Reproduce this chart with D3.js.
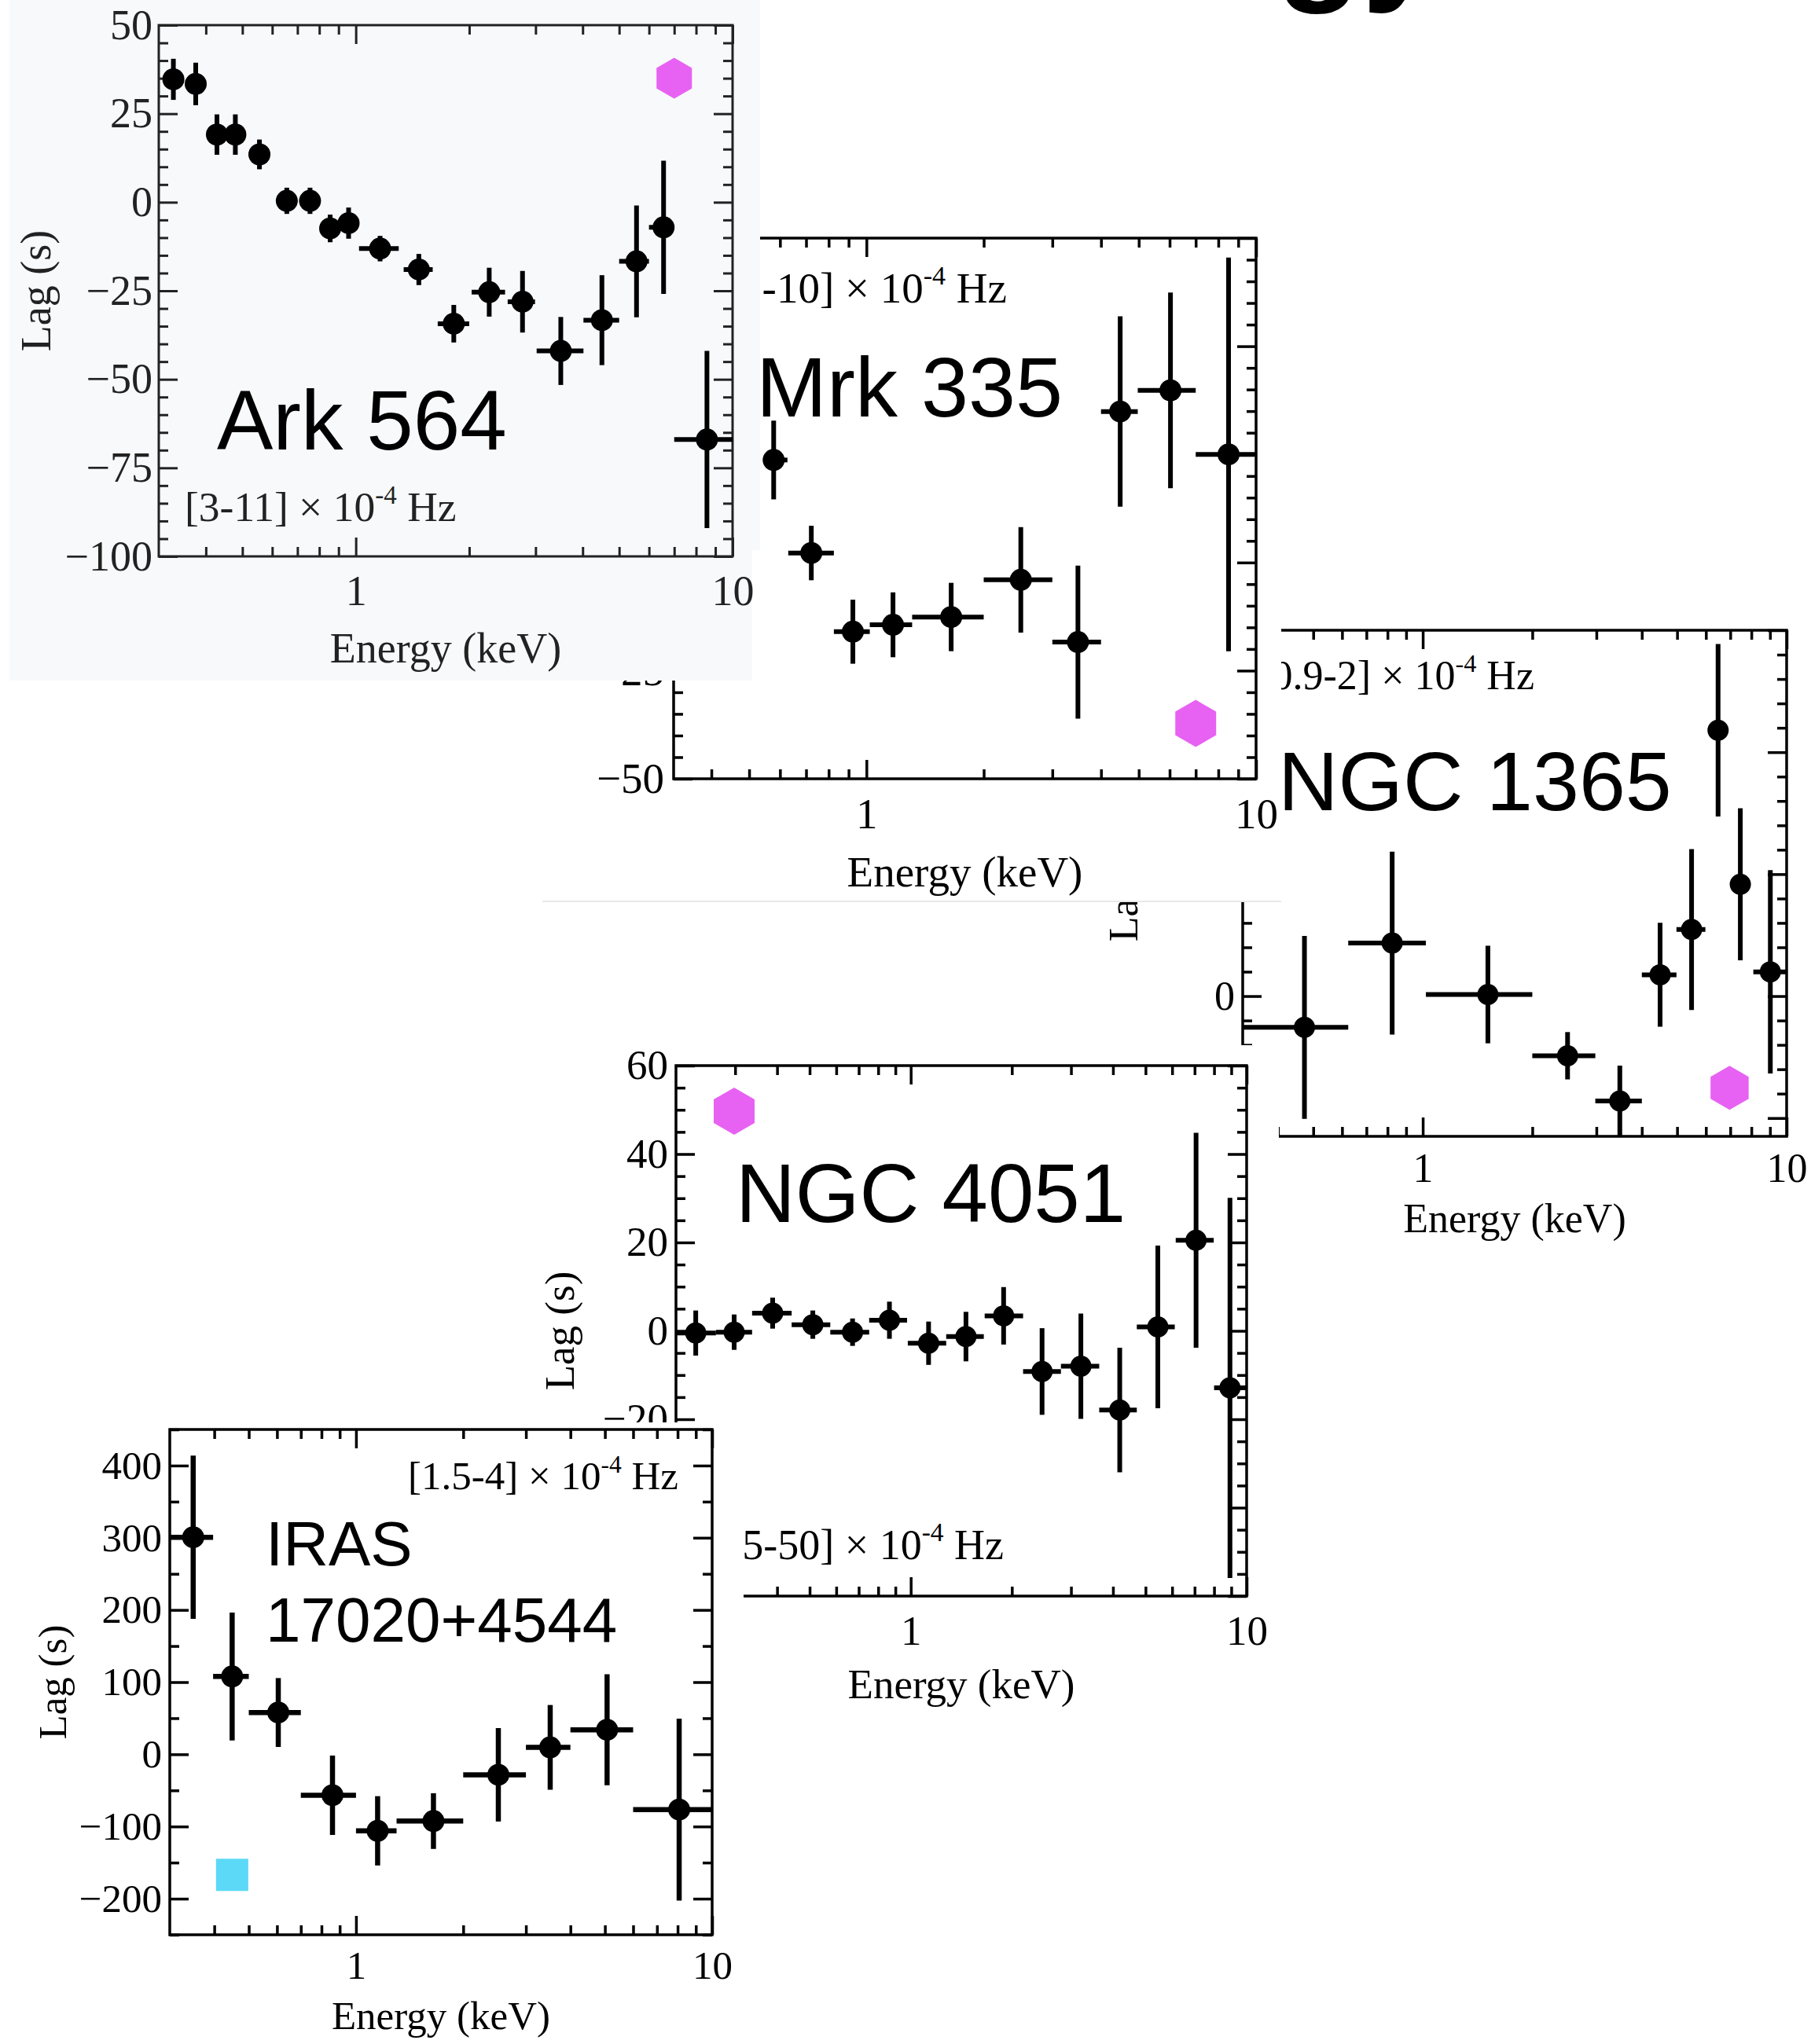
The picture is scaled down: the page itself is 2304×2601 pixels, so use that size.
<!doctype html>
<html>
<head>
<meta charset="utf-8">
<title></title>
<script src="https://cdn.jsdelivr.net/npm/d3@7"></script>
<style>
	body { margin: 0; background: #fff; }
</style>
</head>
<body>
<svg id="main" width="2304" height="2601"></svg>
<script>
'use strict';
var SERIF = '"Liberation Serif", "Times New Roman", serif';
var SANS = '"Liberation Sans", Arial, Helvetica, sans-serif';

// ---------- data (energy in keV, lag in s) ----------
// Ark 564
var arkE   = [0.328, 0.376, 0.428, 0.479, 0.555, 0.656, 0.756, 0.855, 0.957, 1.16, 1.47, 1.82, 2.26, 2.77, 3.50, 4.50, 5.56, 6.56, 8.55];
var arkLo  = [0.31, 0.355, 0.405, 0.455, 0.52, 0.62, 0.72, 0.81, 0.91, 1.02, 1.34, 1.65, 2.03, 2.53, 3.02, 4.02, 5.0, 6.0, 7.0];
var arkHi  = [0.345, 0.395, 0.45, 0.50, 0.59, 0.69, 0.79, 0.90, 1.0, 1.30, 1.60, 2.0, 2.49, 2.99, 4.02, 5.0, 6.0, 7.0, 10.0];
var arkLag = [34.7, 33.4, 19.1, 19.1, 13.5, 0.4, 0.4, -7.4, -5.9, -13.1, -19.0, -34.3, -25.4, -28.1, -42.0, -33.3, -16.7, -7.1, -67];
var arkErr = [5.8, 6, 5.7, 5.7, 4.2, 3.7, 3.7, 3.9, 4.4, 3.6, 4.4, 5.3, 6.9, 8.7, 9.6, 12.7, 15.8, 18.8, 25];

// Mrk 335
var mrkE   = [0.578, 0.722, 0.923, 1.17, 1.65, 2.49, 3.49, 4.48, 6.03, 8.50];
var mrkLo  = [0.553, 0.63, 0.825, 1.02, 1.31, 2.0, 3.0, 4.0, 4.97, 7.0];
var mrkHi  = [0.627, 0.825, 1.02, 1.31, 2.0, 3.0, 4.0, 4.97, 7.0, 10];
var mrkLag = [23.7, 2.2, -16.0, -14.4, -12.6, -4.0, -18.4, 34.9, 39.8, 25.0];
var mrkErr = [9.1, 6.3, 7.4, 7.5, 7.9, 12.2, 17.7, 22, 22.6, 45.5];

// NGC 1365
var n1365E   = [0.473, 0.824, 1.51, 2.50, 3.48, 4.49, 5.48, 6.48, 7.46, 9.02];
var n1365Lo  = [0.32, 0.624, 1.02, 2.0, 2.98, 4.0, 4.98, 6.1, 7.1, 8.1];
var n1365Hi  = [0.624, 1.02, 2.0, 2.98, 4.0, 4.98, 5.98, 6.9, 7.85, 10];
var n1365Lag = [-25.6, 43.5, 1.3, -48.9, -86, 17.5, 54.6, 218, 91.7, 19.9];
var n1365Err = [75, 75, 40, 19.4, 29, 42.6, 66, 70.8, 62.4, 83.4];

// NGC 4051
var n4051E   = [0.229, 0.298, 0.388, 0.511, 0.671, 0.864, 1.13, 1.46, 1.89, 2.46, 3.21, 4.19, 5.44, 7.07, 8.92];
var n4051Lo  = [0.2, 0.263, 0.337, 0.442, 0.576, 0.752, 0.98, 1.275, 1.66, 2.16, 2.80, 3.64, 4.71, 6.15, 8.0];
var n4051Hi  = [0.263, 0.337, 0.442, 0.576, 0.752, 0.975, 1.275, 1.65, 2.16, 2.80, 3.64, 4.71, 6.11, 7.98, 10];
var n4051Lag = [-0.5, -0.3, 4.0, 1.4, -0.3, 2.4, -2.8, -1.3, 3.4, -9.2, -8.0, -17.9, 0.9, 20.5, -12.9];
var n4051Err = [5.1, 4, 3.5, 3.2, 3.1, 4.2, 4.9, 5.6, 6.5, 9.8, 11.9, 14.1, 18.4, 24.3, 43];

// IRAS 17020+4544
var irasE   = [0.349, 0.449, 0.605, 0.859, 1.15, 1.65, 2.51, 3.51, 5.07, 8.08];
var irasLo  = [0.3, 0.397, 0.5, 0.70, 1.0, 1.30, 2.0, 3.0, 4.0, 6.0];
var irasHi  = [0.397, 0.5, 0.70, 1.0, 1.30, 2.0, 3.0, 4.0, 6.0, 10];
var irasLag = [300.7, 107.8, 57.9, -56.7, -106, -92.5, -28.4, 9.6, 34, -76.6];
var irasErr = [113, 88.5, 47.7, 55, 48, 38.6, 64.7, 58.7, 77, 126];

// axis ticks
var xMajor = [1, 10];
var xMinor = [0.2, 0.3, 0.4, 0.5, 0.6, 0.7, 0.8, 0.9, 2, 3, 4, 5, 6, 7, 8, 9];
var arkYMajor   = [-100, -75, -50, -25, 0, 25, 50];
var mrkYMajor   = [-50, -25, 0, 25, 50, 75];
var n1365YMajor = [-100, 0, 100, 200, 300];
var n4051YMajor = [-60, -40, -20, 0, 20, 40, 60];
var irasYMajor  = [-200, -100, 0, 100, 200, 300, 400];

// marker positions (energy, lag)
var arkHex   = [7.0, 35];
var mrkHex   = [7.0, -37.2];
var n1365Hex = [6.97, -75.2];
var n4051Hex = [0.298, 49.7];
var irasSquare = [0.449, -167];

var HEX_FILL = '#e762f2';
var SQ_FILL = '#5cd9f6';

var svg = d3.select('#main');

function hexPath(cx, cy, R) {
	var pts = d3.range(6).map(function(k) {
		var a = -Math.PI / 2 + k * Math.PI / 3;
		return [cx + R * Math.cos(a), cy + R * Math.sin(a)];
	});
	return d3.line()(pts) + 'Z';
}

function drawPanel(p) {
	var g = svg.append('g');
	// panel background (covers the panel underneath)
	p.bg.forEach(function(b) {
		g.append('rect')
			.attr('x', b[0]).attr('y', b[1])
			.attr('width', b[2] - b[0]).attr('height', b[3] - b[1])
			.attr('fill', p.bgFill);
	});
	if (p.edge) {
		var b = p.bg[0];
		g.append('line')
			.attr('x1', b[0]).attr('x2', b[2])
			.attr('y1', b[3]).attr('y2', b[3])
			.attr('stroke', '#e8e8e8').attr('stroke-width', 2);
	}

	var x0 = p.frame[0], y0 = p.frame[1], x1 = p.frame[2], y1 = p.frame[3];
	var x = d3.scaleLog().domain(p.xDomain).range([x0, x1]);
	var y = d3.scaleLinear().domain(p.yDomain).range([y1, y0]);

	var xmin = xMinor.filter(function(v) { return v > p.xDomain[0] && v < p.xDomain[1]; });
	var ymin = d3.range(Math.ceil(p.yDomain[0] / p.yStep) * p.yStep, p.yDomain[1] + 1e-9, p.yStep)
		.filter(function(v) { return p.yMajor.indexOf(v) < 0; });
	var ymaj = p.yMajor.filter(function(v) { return v >= p.yDomain[0] && v <= p.yDomain[1]; });

	function axis(gen, tr, vals, len, labels, pad) {
		var a = gen.tickValues(vals).tickSizeInner(-len).tickSizeOuter(0).tickPadding(pad || 0)
			.tickFormat(labels ? labels : function() { return ''; });
		var s = g.append('g').attr('transform', tr).call(a);
		s.select('.domain').remove();
		s.attr('font-size', p.fs).attr('font-family', SERIF);
		s.selectAll('line').attr('stroke', p.ink).attr('stroke-width', p.lw);
		s.selectAll('text').attr('fill', p.ink);
		return s;
	}
	var fmtX = function(d) { return d3.format('d')(d); };
	var fmtY = d3.format('d');

	// bottom / top
	axis(d3.axisBottom(x), 'translate(0,' + y1 + ')', xMajor, 24, fmtX, p.xTickBase - 0.71 * p.fs);
	axis(d3.axisBottom(x), 'translate(0,' + y1 + ')', xmin, 12);
	axis(d3.axisTop(x), 'translate(0,' + y0 + ')', xMajor, 24);
	axis(d3.axisTop(x), 'translate(0,' + y0 + ')', xmin, 12);
	// left / right
	axis(d3.axisLeft(y), 'translate(' + x0 + ',0)', ymaj, 24, fmtY, p.yTickPad);
	axis(d3.axisLeft(y), 'translate(' + x0 + ',0)', ymin, 12);
	axis(d3.axisRight(y), 'translate(' + x1 + ',0)', ymaj, 24);
	axis(d3.axisRight(y), 'translate(' + x1 + ',0)', ymin, 12);

	g.append('rect')
		.attr('x', x0).attr('y', y0).attr('width', x1 - x0).attr('height', y1 - y0)
		.attr('fill', 'none').attr('stroke', p.ink).attr('stroke-width', p.lw);

	// axis titles
	g.append('text')
		.attr('transform', 'translate(' + (x0 - p.yLabelOff) + ',' + ((y0 + y1) / 2) + ') rotate(-90)')
		.attr('text-anchor', 'middle').attr('font-family', SERIF).attr('font-size', p.fs)
		.attr('fill', p.ink).text('Lag (s)');
	g.append('text')
		.attr('x', (x0 + x1) / 2).attr('y', y1 + p.xLabelBase)
		.attr('text-anchor', 'middle').attr('font-family', SERIF).attr('font-size', p.fs)
		.attr('fill', p.ink).text('Energy (keV)');

	// frequency band note
	var nfs = p.note.fs || p.fs;
	var note = g.append('text')
		.attr('x', p.note.x).attr('y', p.note.y)
		.attr('text-anchor', p.note.anchor).attr('font-family', SERIF).attr('font-size', nfs)
		.attr('fill', p.ink);
	note.append('tspan').text(p.note.text + ' \u00d7 10');
	note.append('tspan').attr('dy', -0.42 * nfs).attr('font-size', nfs * 0.62).text('-4');
	note.append('tspan').attr('dy', 0.42 * nfs).text(' Hz');

	// data
	var pts = p.E.map(function(e, i) {
		return { e: e, lo: p.lo[i], hi: p.hi[i], lag: p.lag[i], err: p.err[i] };
	});
	var d = g.append('g').attr('stroke', '#000').attr('stroke-width', p.ew);
	d.selectAll('line.v').data(pts).join('line').attr('class', 'v')
		.attr('x1', function(q) { return x(q.e); }).attr('x2', function(q) { return x(q.e); })
		.attr('y1', function(q) { return y(q.lag - q.err); }).attr('y2', function(q) { return y(q.lag + q.err); });
	d.selectAll('line.h').data(pts).join('line').attr('class', 'h')
		.attr('x1', function(q) { return x(q.lo); }).attr('x2', function(q) { return x(q.hi); })
		.attr('y1', function(q) { return y(q.lag); }).attr('y2', function(q) { return y(q.lag); });
	g.append('g').selectAll('circle').data(pts).join('circle')
		.attr('cx', function(q) { return x(q.e); }).attr('cy', function(q) { return y(q.lag); })
		.attr('r', p.r).attr('fill', '#000');

	if (p.hex) {
		g.append('path').attr('d', hexPath(x(p.hex[0]), y(p.hex[1]), p.hexR)).attr('fill', HEX_FILL);
	}
	if (p.square) {
		var s = p.squareSize;
		g.append('rect')
			.attr('x', x(p.square[0]) - s / 2).attr('y', y(p.square[1]) - s / 2)
			.attr('width', s).attr('height', s).attr('fill', SQ_FILL);
	}

	// source name
	p.name.lines.forEach(function(t, i) {
		g.append('text')
			.attr('x', p.name.x).attr('y', p.name.y + i * p.name.lh)
			.attr('font-family', SANS).attr('font-size', p.name.fs)
			.attr('fill', '#000').text(t);
	});
}

// painted bottom to top
drawPanel({
	bg: [[1380, 740, 2304, 1640]], bgFill: '#fff',
	frame: [1581, 802, 2273, 1446], xDomain: [0.32, 10], yDomain: [-115, 300],
	yMajor: n1365YMajor, yStep: 20,
	E: n1365E, lo: n1365Lo, hi: n1365Hi, lag: n1365Lag, err: n1365Err,
	ink: '#000', lw: 3.5, ew: 6, r: 13.5, fs: 52,
	xTickBase: 58, yTickPad: 10, yLabelOff: 134, xLabelBase: 122,
	note: { text: '[0.9-2]', x: 1952, y: 877, anchor: 'end' },
	hex: n1365Hex, hexR: 28,
	name: { lines: ['NGC 1365'], x: 1626, y: 1031, fs: 106, lh: 0 }
});

drawPanel({
	bg: [[690, 240, 1630, 1147]], bgFill: '#fff', edge: true,
	frame: [857, 303, 1598, 991], xDomain: [0.32, 10], yDomain: [-50, 75],
	yMajor: mrkYMajor, yStep: 5,
	E: mrkE, lo: mrkLo, hi: mrkHi, lag: mrkLag, err: mrkErr,
	ink: '#000', lw: 3.5, ew: 6, r: 14, fs: 55,
	xTickBase: 63, yTickPad: 12, yLabelOff: 134, xLabelBase: 137,
	note: { text: '[2-10]', x: 1281, y: 385, anchor: 'end' },
	hex: mrkHex, hexR: 30,
	name: { lines: ['Mrk 335'], x: 962, y: 530, fs: 108, lh: 0 }
});

drawPanel({
	bg: [[12, 0, 967, 700], [12, 0, 957, 866]], bgFill: '#f7f9fb',
	frame: [202, 32, 932, 708], xDomain: [0.3, 10], yDomain: [-100, 50],
	yMajor: arkYMajor, yStep: 5,
	E: arkE, lo: arkLo, hi: arkHi, lag: arkLag, err: arkErr,
	ink: '#222', lw: 3, ew: 6, r: 14, fs: 54,
	xTickBase: 62, yTickPad: 8, yLabelOff: 138, xLabelBase: 135,
	note: { text: '[3-11]', x: 235, y: 663, anchor: 'start', fs: 53.5 },
	hex: arkHex, hexR: 26,
	name: { lines: ['Ark 564'], x: 276, y: 572, fs: 107, lh: 0 }
});

drawPanel({
	bg: [[688, 1330, 1627, 2200]], bgFill: '#fff',
	frame: [860, 1356, 1586, 2031], xDomain: [0.2, 10], yDomain: [-60, 60],
	yMajor: n4051YMajor, yStep: 5,
	E: n4051E, lo: n4051Lo, hi: n4051Hi, lag: n4051Lag, err: n4051Err,
	ink: '#000', lw: 3.5, ew: 6, r: 13.5, fs: 53,
	xTickBase: 62, yTickPad: 10, yLabelOff: 130, xLabelBase: 130,
	note: { text: '[5-50]', x: 1277, y: 1984, anchor: 'end', fs: 54 },
	hex: n4051Hex, hexR: 30,
	name: { lines: ['NGC 4051'], x: 936, y: 1555, fs: 105, lh: 0 }
});

drawPanel({
	bg: [[0, 1810, 946, 2601]], bgFill: '#fff',
	frame: [216, 1819, 906, 2462], xDomain: [0.3, 10], yDomain: [-250, 450],
	yMajor: irasYMajor, yStep: 50,
	E: irasE, lo: irasLo, hi: irasHi, lag: irasLag, err: irasErr,
	ink: '#000', lw: 3.5, ew: 6.5, r: 14, fs: 51,
	xTickBase: 56, yTickPad: 10, yLabelOff: 132, xLabelBase: 120,
	note: { text: '[1.5-4]', x: 863, y: 1895, anchor: 'end', fs: 51 },
	square: irasSquare, squareSize: 41,
	name: { lines: ['IRAS', '17020+4544'], x: 338, y: 1992, fs: 80, lh: 97 }
});

// title cut off at the top edge: only the descenders show
svg.append('text')
	.attr('x', 1623).attr('y', -20)
	.attr('font-family', SANS).attr('font-weight', 'bold').attr('font-size', 180)
	.attr('fill', '#000').text('gy');
</script>
</body>
</html>
